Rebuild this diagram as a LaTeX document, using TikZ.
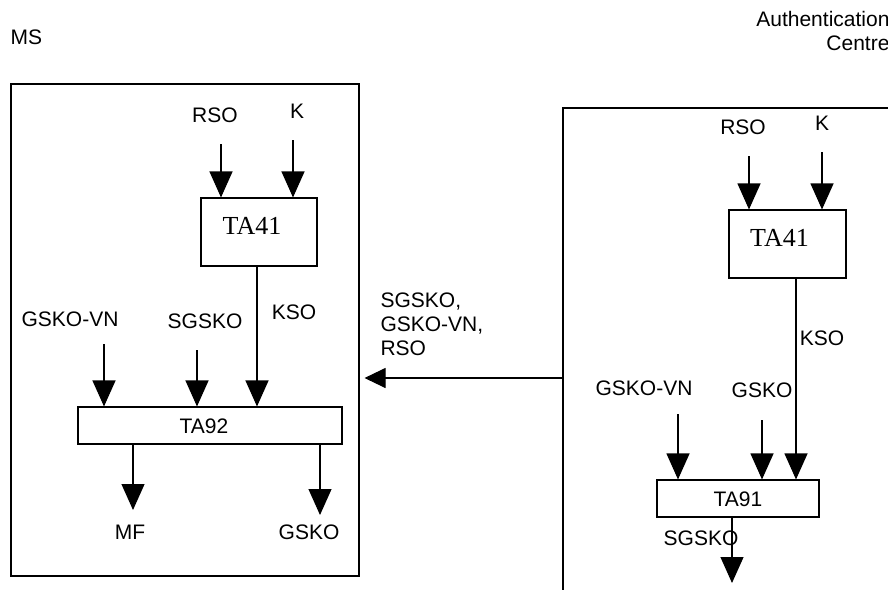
\documentclass[tikz,border=0pt]{standalone}
\usepackage{fontspec}
\setmainfont{Liberation Sans}
\newfontfamily\timesfont{Liberation Serif}
\usetikzlibrary{arrows.meta}
\begin{document}
\begin{tikzpicture}[x=1pt, y=-1pt, line width=1.1pt, every node/.style={font=\fontsize{21}{24}\selectfont, inner sep=0pt}, >={Triangle[length=26pt, width=23pt]}, blk/.style={draw, line width=1.1pt}, lab/.style={text height=15pt, text depth=0pt}, taf/.style={font=\timesfont\fontsize{26}{30}\selectfont, text depth=12pt}]
	\clip (0,0) rectangle (888,589);
	\node[anchor=west, lab] (ms) at (10,37) {MS};
	\node[anchor=east, align=right] (auc) at (890,31) {Authentication\\ Centre};
	\node[blk, minimum width=348pt, minimum height=492pt] (msbox) at (185,330) {};
	\node[blk, minimum width=400pt, minimum height=540pt] (acbox) at (763,378) {};
	\node[blk, taf, minimum width=116pt, minimum height=68pt] (ta41m) at (259,232) {TA41\hspace*{14pt}};
	\node[blk, lab, minimum width=264pt, minimum height=37pt] (ta92) at (210,425.5) {TA92\hspace*{12pt}};
	\node[blk, taf, minimum width=117pt, minimum height=68pt] (ta41a) at (787.5,244) {TA41\hspace*{16pt}};
	\node[blk, lab, minimum width=162pt, minimum height=37pt] (ta91) at (738,498.5) {TA91};
	\node[lab] (rsom) at (215,115) {RSO};
	\node[lab] (km) at (297,111) {K};
	\node[lab] (ksom) at (294,312) {KSO};
	\node[lab] (vnm) at (70,319) {GSKO-VN};
	\node[lab] (sgm) at (205,321) {SGSKO};
	\node[lab] (mf) at (130,532) {MF};
	\node[lab] (gskom) at (309,532) {GSKO};
	\node[lab] (rsoa) at (743,127) {RSO};
	\node[lab] (ka) at (822,123) {K};
	\node[lab] (ksoa) at (822,338) {KSO};
	\node[lab] (vna) at (644,388) {GSKO-VN};
	\node[lab] (gskoa) at (762,390) {GSKO};
	\node[lab] (sga) at (701,538) {SGSKO};
	\node[anchor=west, align=left] (sent) at (380,324) {SGSKO,\\ GSKO-VN,\\ RSO};
	\coordinate (rsomT) at (221,144);
	\coordinate (kmT) at (293,140);
	\coordinate (vnmT) at (104,344);
	\coordinate (sgmT) at (197,350);
	\coordinate (mfH) at (133,510);
	\coordinate (gskomH) at (320,515);
	\coordinate (rsoaT) at (749,156);
	\coordinate (kaT) at (822,152);
	\coordinate (vnaT) at (678,414);
	\coordinate (gskoaT) at (762,420);
	\coordinate (sgaH) at (732,583);
	\draw[->] (rsomT) -- (rsomT |- ta41m.north);
	\draw[->] (kmT) -- (kmT |- ta41m.north);
	\draw[->] ([xshift=-2pt]ta41m.south) -- ([xshift=-2pt]ta41m.south |- ta92.north);
	\draw[->] (vnmT) -- (vnmT |- ta92.north);
	\draw[->] (sgmT) -- (sgmT |- ta92.north);
	\draw[->] (mfH |- ta92.south) -- (mfH);
	\draw[->] (gskomH |- ta92.south) -- (gskomH);
	\draw[->] (rsoaT) -- (rsoaT |- ta41a.north);
	\draw[->] (kaT) -- (kaT |- ta41a.north);
	\draw[->] ([xshift=8.5pt]ta41a.south) -- ([xshift=8.5pt]ta41a.south |- ta91.north);
	\draw[->] (vnaT) -- (vnaT |- ta91.north);
	\draw[->] (gskoaT) -- (gskoaT |- ta91.north);
	\draw[->] (sgaH |- ta91.south) -- (sgaH);
	\draw[-{Triangle[length=21pt, width=20pt]}, shorten >=5pt] (acbox.west) -- (msbox.east |- acbox.west);
\end{tikzpicture}
\end{document}
